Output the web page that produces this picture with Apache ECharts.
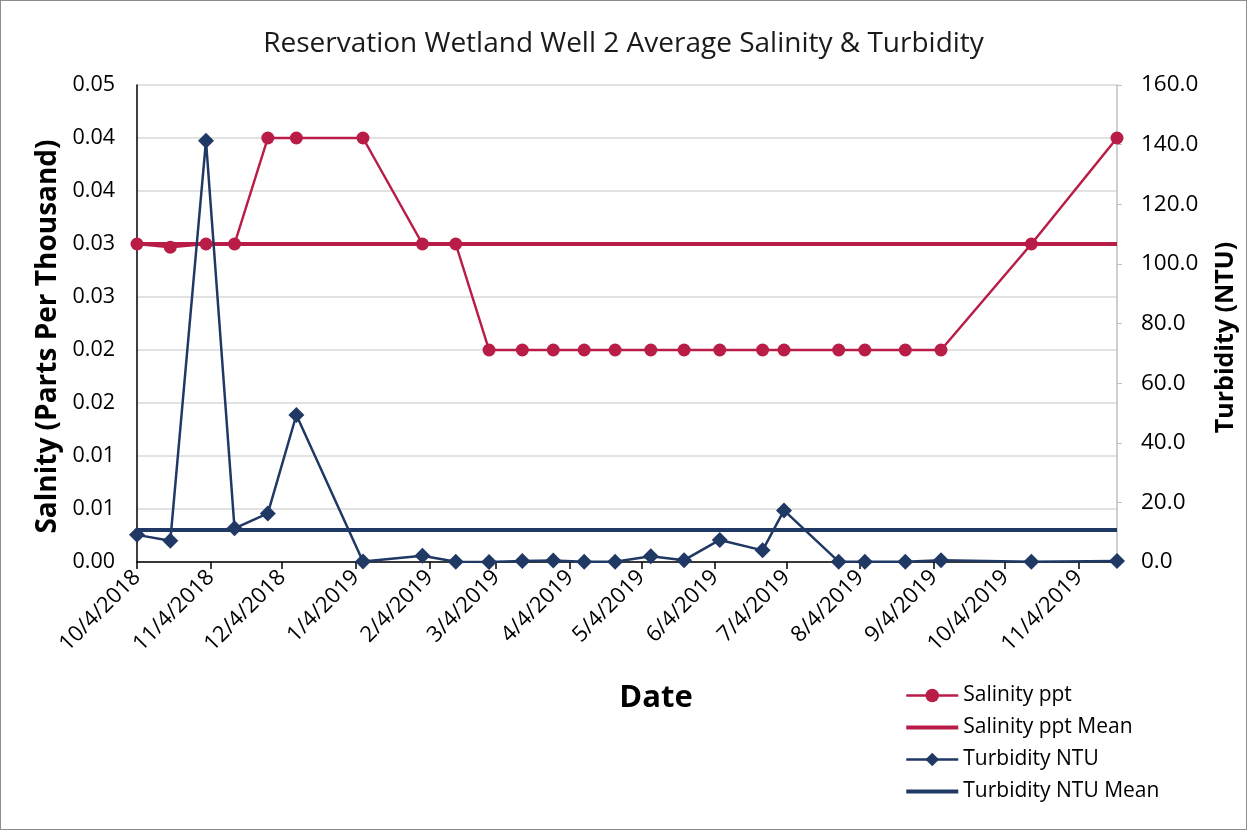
<!DOCTYPE html>
<html>
<head>
<meta charset="utf-8">
<script src="https://cdn.jsdelivr.net/npm/echarts@6/dist/echarts.min.js"></script>
<style>
html,body{margin:0;padding:0;background:#fff;}
#main{width:1245px;height:828px;border:1px solid #8c8c8c;}
</style>
</head>
<body>
<div id="main"></div>
<script>
// sample dates (M/D/YYYY)
var dates = ['10/4/2018','10/18/2018','11/2/2018','11/14/2018','11/28/2018','12/10/2018',
  '1/7/2019','2/1/2019','2/15/2019','3/1/2019','3/15/2019','3/28/2019','4/10/2019','4/23/2019',
  '5/8/2019','5/22/2019','6/6/2019','6/24/2019','7/3/2019','7/26/2019','8/6/2019','8/23/2019',
  '9/7/2019','10/15/2019','11/20/2019'];
var salinity = [0.03,0.0297,0.03,0.03,0.04,0.04,0.04,0.03,0.03,0.02,0.02,0.02,0.02,0.02,
  0.02,0.02,0.02,0.02,0.02,0.02,0.02,0.02,0.02,0.03,0.04];
var turbidity = [9.1,7.1,141.3,11.3,16.3,49.3,0.2,2.1,0.1,0.0,0.3,0.5,0.1,0.1,
  1.9,0.6,7.4,3.9,17.3,0.1,0.1,0.1,0.6,0.1,0.3];
var salinityMean = 0.03;
var turbidityMean = 10.7;
var tickLabels = ['10/4/2018','11/4/2018','12/4/2018','1/4/2019','2/4/2019','3/4/2019','4/4/2019',
  '5/4/2019','6/4/2019','7/4/2019','8/4/2019','9/4/2019','10/4/2019','11/4/2019'];

var FONT = 'Open Sans';
var RED = '#b91d47';
var NAVY = '#203864';
var BAR = 'path://M0,0 L52,0 L52,4 L0,4 Z';

function toTime(s){
	var p = s.split('/');
	return new Date(+p[2], +p[0]-1, +p[1]).getTime();
}
function fmtDate(v){
	var d = new Date(v);
	return (d.getMonth()+1)+'/'+d.getDate()+'/'+d.getFullYear();
}

var times = dates.map(toTime);
var tickTimes = tickLabels.map(toTime);
var t0 = times[0], tN = times[times.length-1];

var mychart = echarts.init(document.getElementById('main'));
mychart.setOption({
	animation:false,
	textStyle:{fontFamily:FONT},
	title:{
		text:'Reservation Wetland Well 2 Average Salinity & Turbidity',
		left:'center',
		top:24,
		textStyle:{fontFamily:FONT,fontSize:28,fontWeight:'normal',color:'#1a1a1a'}
	},
	legend:{
		orient:'vertical',
		left:904,
		top:684,
		padding:0,
		itemWidth:52,
		itemHeight:17,
		itemGap:11,
		textStyle:{fontFamily:FONT,fontSize:21,color:'#000'},
		data:[
			{name:'Salinity ppt',lineStyle:{width:2.5}},
			{name:'Salinity ppt Mean',icon:BAR},
			{name:'Turbidity NTU',lineStyle:{width:2.5}},
			{name:'Turbidity NTU Mean',icon:BAR}
		]
	},
	graphic:[{
		type:'text',
		style:{text:'Date',x:655,y:697,textAlign:'center',textVerticalAlign:'middle',
			font:'bold 31px "'+FONT+'"',fill:'#000'}
	}],
	grid:{left:136,right:129,top:84,bottom:267,containLabel:false},
	xAxis:{
		type:'value',
		min:t0,
		max:tN,
		splitLine:{show:false},
		axisLine:{lineStyle:{color:'#000',width:1.5}},
		axisTick:{show:true,length:7,customValues:tickTimes,lineStyle:{color:'#000',width:1.5}},
		axisLabel:{
			customValues:tickTimes,
			rotate:45,
			fontSize:22,
			color:'#000',
			margin:12,
			formatter:function(v){ return fmtDate(v); }
		}
	},
	yAxis:[{
		type:'value',
		position:'left',
		min:0,
		max:0.045,
		interval:0.005,
		name:'Salnity (Parts Per Thousand)',
		nameLocation:'middle',
		nameGap:63,
		nameTextStyle:{fontFamily:FONT,fontSize:28,fontWeight:'bold',color:'#000',padding:[0,26,0,0]},
		axisLine:{show:true,lineStyle:{color:'#000',width:1.5}},
		axisTick:{show:false},
		splitLine:{lineStyle:{color:'#d9d9d9',width:1.5}},
		axisLabel:{fontSize:21.5,color:'#000',margin:22,
			formatter:function(v){ return (Math.round(v*100+1e-9)/100).toFixed(2); }}
	},{
		type:'value',
		position:'right',
		min:0,
		max:160,
		interval:20,
		name:'Turbidity (NTU)',
		nameLocation:'middle',
		nameRotate:90,
		nameGap:96,
		nameTextStyle:{fontFamily:FONT,fontSize:25,fontWeight:'bold',color:'#000',padding:[0,28,0,0]},
		axisLine:{show:true,lineStyle:{color:'#bfbfbf',width:1.5}},
		axisTick:{show:true,length:5,lineStyle:{color:'#bfbfbf'}},
		splitLine:{show:false},
		axisLabel:{fontSize:22.5,color:'#000',margin:24,
			formatter:function(v){ return v.toFixed(1); }}
	}],
	series:[{
		name:'Salinity ppt',
		type:'line',
		yAxisIndex:0,
		symbol:'circle',
		symbolSize:13,
		data:times.map(function(t,i){ return [t, salinity[i]]; }),
		lineStyle:{color:RED,width:2.5},
		itemStyle:{color:RED}
	},{
		name:'Salinity ppt Mean',
		type:'line',
		yAxisIndex:0,
		symbol:'none',
		data:[[t0,salinityMean],[tN,salinityMean]],
		lineStyle:{color:RED,width:4},
		itemStyle:{color:RED}
	},{
		name:'Turbidity NTU',
		type:'line',
		yAxisIndex:1,
		symbol:'diamond',
		symbolSize:16,
		data:times.map(function(t,i){ return [t, turbidity[i]]; }),
		lineStyle:{color:NAVY,width:2.5},
		itemStyle:{color:NAVY}
	},{
		name:'Turbidity NTU Mean',
		type:'line',
		yAxisIndex:1,
		symbol:'none',
		data:[[t0,turbidityMean],[tN,turbidityMean]],
		lineStyle:{color:NAVY,width:4},
		itemStyle:{color:NAVY}
	}]
});
</script>
</body>
</html>
